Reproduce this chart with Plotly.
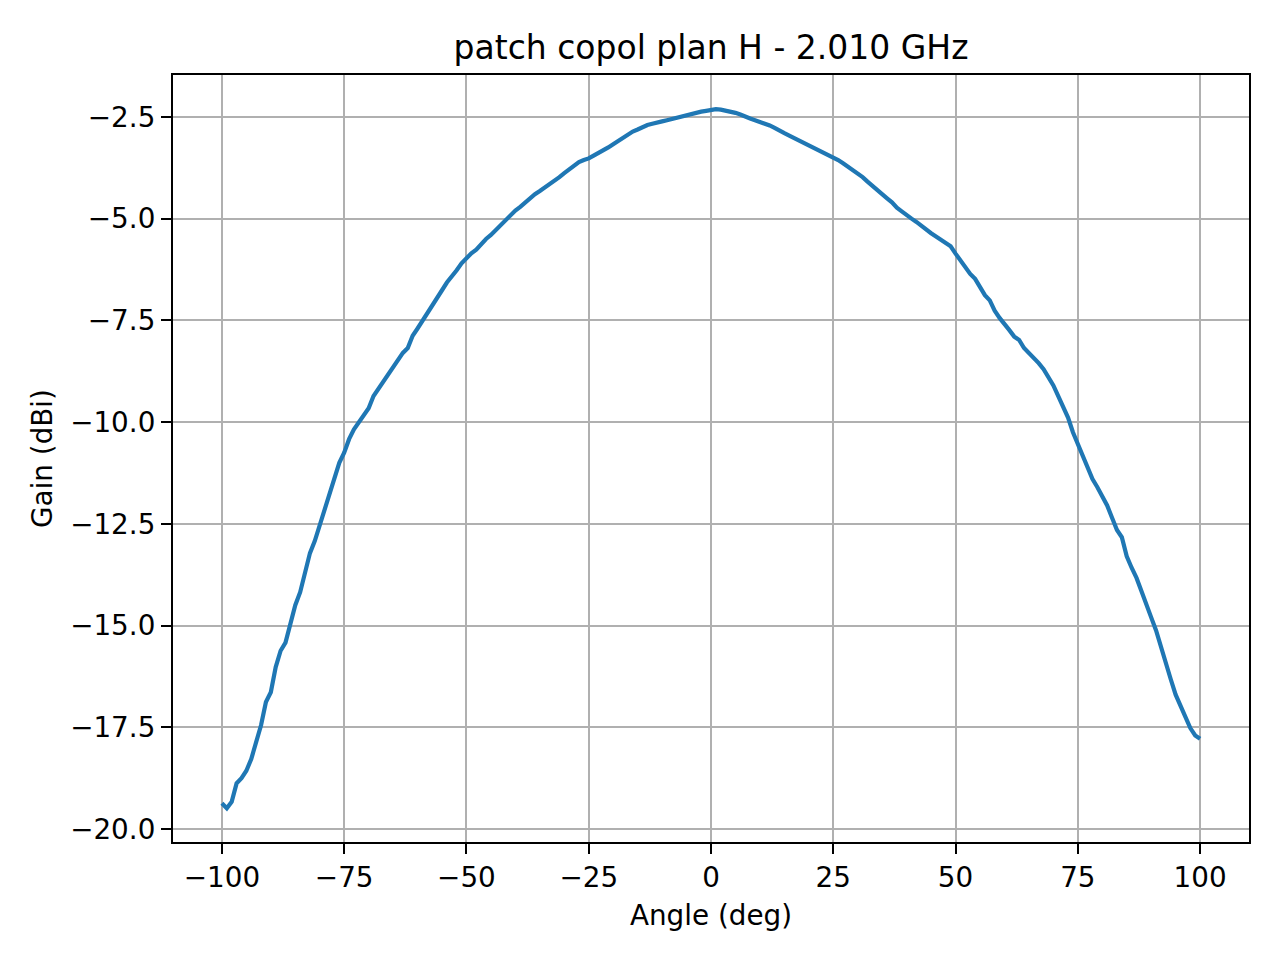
import plotly.graph_objects as go

angle = list(range(-100, 101))
gain = [
    -19.37, -19.49, -19.33, -18.88, -18.75, -18.57, -18.28, -17.90, -17.45, -16.88,
    -16.64, -16.02, -15.62, -15.42, -15.00, -14.50, -14.18, -13.68, -13.22, -12.92,
    -12.55, -12.15, -11.80, -11.40, -11.00, -10.75, -10.42, -10.18, -10.00, -9.83,
    -9.66, -9.36, -9.18, -9.04, -8.84, -8.65, -8.47, -8.30, -8.18, -7.88,
    -7.70, -7.52, -7.33, -7.13, -6.95, -6.76, -6.57, -6.43, -6.27, -6.10,
    -5.97, -5.85, -5.76, -5.62, -5.50, -5.40, -5.28, -5.16, -5.03, -4.90,
    -4.80, -4.71, -4.60, -4.50, -4.40, -4.32, -4.24, -4.16, -4.07, -3.98,
    -3.88, -3.78, -3.69, -3.61, -3.56, -3.52, -3.45, -3.39, -3.33, -3.25,
    -3.17, -3.09, -3.00, -2.93, -2.86, -2.81, -2.75, -2.70, -2.67, -2.63,
    -2.61, -2.58, -2.55, -2.50, -2.47, -2.44, -2.42, -2.40, -2.37, -2.35,
    -2.33,
    -2.31, -2.32, -2.34, -2.37, -2.40, -2.44, -2.50, -2.54, -2.58, -2.62,
    -2.66, -2.71, -2.77, -2.85, -2.90, -2.96, -3.02, -3.06, -3.12, -3.18,
    -3.24, -3.30, -3.36, -3.43, -3.49, -3.56, -3.64, -3.72, -3.80, -3.90,
    -3.98, -4.09, -4.20, -4.30, -4.40, -4.50, -4.60, -4.73, -4.82, -4.92,
    -5.00, -5.08, -5.18, -5.27, -5.36, -5.44, -5.52, -5.60, -5.68, -5.86,
    -6.04, -6.18, -6.36, -6.48, -6.70, -6.88, -7.01, -7.26, -7.44, -7.58,
    -7.74, -7.90, -7.98, -8.18, -8.30, -8.42, -8.55, -8.70, -8.88, -9.10,
    -9.36, -9.64, -9.89, -10.25, -10.55, -10.85, -11.14, -11.40, -11.60, -11.82,
    -12.05, -12.35, -12.65, -12.83, -13.30, -13.58, -13.83, -14.15, -14.45, -14.80,
    -15.12, -15.55, -15.92, -16.32, -16.70, -16.98, -17.20, -17.52, -17.70, -17.78,
]

title = "patch copol plan H - 2.010 GHz"
x_label = "Angle (deg)"
y_label = "Gain (dBi)"

fig = go.Figure()
fig.add_trace(go.Scatter(
    x=angle,
    y=gain,
    mode="lines",
    line={"color": "#1f77b4", "width": 4.2},
    showlegend=False,
))

axis_style = dict(
    showline=True,
    linecolor="black",
    linewidth=2.2,
    mirror=True,
    showgrid=True,
    gridcolor="#b0b0b0",
    gridwidth=2.2,
    zeroline=False,
    ticks="outside",
    ticklen=10,
    tickwidth=2.2,
    tickcolor="black",
    tickfont={"size": 27.8, "color": "black"},
)

# the page body adds an 8px offset, so margins are shifted to compensate
fig.update_layout(
    width=1280,
    height=960,
    font={"family": "DejaVu Sans", "color": "black"},
    title={
        "text": title,
        "font": {"size": 33},
        "x": 703 / 1280,
        "xanchor": "center",
        "y": 1 - 39 / 960,
        "yanchor": "middle",
        "yref": "container",
    },
    margin={"l": 165, "r": 39, "t": 67, "b": 126},
    plot_bgcolor="white",
    paper_bgcolor="white",
)

fig.update_xaxes(
    range=[-110, 110],
    tick0=0,
    dtick=25,
    title={"text": x_label, "font": {"size": 27.8}, "standoff": 12},
    **axis_style,
)
fig.update_yaxes(
    range=[-20.32, -1.47],
    tick0=0,
    dtick=2.5,
    tickformat=".1f",
    title={"text": y_label, "font": {"size": 27.8}, "standoff": 9},
    **axis_style,
)

fig.write_html("out.html")
